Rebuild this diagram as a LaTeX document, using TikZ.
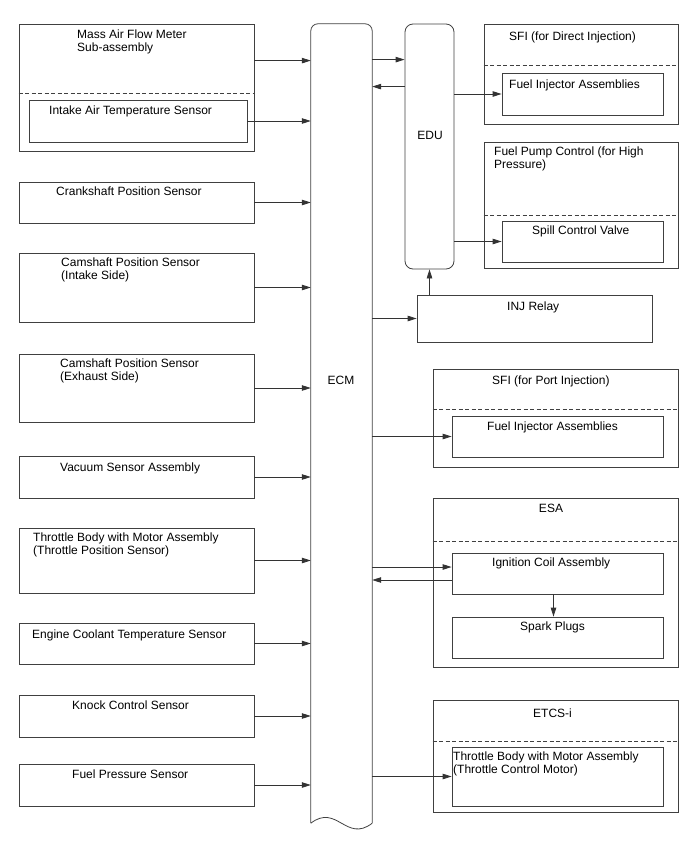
\documentclass[tikz,border=0pt]{standalone}
\usepackage{fontspec}
\setmainfont{Liberation Sans}
\usepackage{tikz}
\usetikzlibrary{arrows.meta,fit}

\begin{document}
\begin{tikzpicture}[x=1pt, y=-1pt,
  every node/.style={font=\fontsize{12}{13}\selectfont},
  box/.style={draw=black!75, line width=0.8pt, inner sep=0pt},
  txt/.style={anchor=base west, align=left, inner sep=0pt},
  dashline/.style={draw=black!75, line width=0.8pt, dash pattern=on 4pt off 2.5pt},
  arr/.style={draw=black!80, line width=0.8pt, -{Triangle[length=9pt,width=5.5pt]}}]
\useasboundingbox (0,0) rectangle (688,852);

% sensors
\node[box, fit={(19,24) (254,151)}] (maf) {};
\node[box, fit={(29,100) (247,142)}] (iat) {};
\node[box, fit={(19,182) (254,223)}] (crank) {};
\node[box, fit={(19,253) (254,322)}] (camin) {};
\node[box, fit={(19,354) (254,422)}] (camex) {};
\node[box, fit={(19,456) (254,498)}] (vac) {};
\node[box, fit={(19,528) (254,593)}] (tps) {};
\node[box, fit={(19,623) (254,664)}] (ect) {};
\node[box, fit={(19,695) (254,737)}] (knock) {};
\node[box, fit={(19,764) (254,806)}] (fps) {};
\draw[dashline] ([yshift=-70pt]maf.north west) -- ([yshift=-70pt]maf.north east);

% two-line labels sit on the baseline of their last line
\node[txt] (mafT) at (77,51) {Mass Air Flow Meter\\Sub-assembly};
\node[txt] (iatT) at (49,114) {Intake Air Temperature Sensor};
\node[txt] (crankT) at (56,195) {Crankshaft Position Sensor};
\node[txt] (caminT) at (61,279) {Camshaft Position Sensor\\(Intake Side)};
\node[txt] (camexT) at (60,380) {Camshaft Position Sensor\\(Exhaust Side)};
\node[txt] (vacT) at (60,471) {Vacuum Sensor Assembly};
\node[txt] (tpsT) at (33,554) {Throttle Body with Motor Assembly\\(Throttle Position Sensor)};
\node[txt] (ectT) at (32,638) {Engine Coolant Temperature Sensor};
\node[txt] (knockT) at (72,709) {Knock Control Sensor};
\node[txt] (fpsT) at (72,778) {Fuel Pressure Sensor};

% ECM and EDU
\node[fit={(311,24) (372,823)}, inner sep=0pt] (ecm) {};
\draw[draw=black!75, line width=0.8pt, rounded corners=7pt] (ecm.south west) -- (ecm.north west) -- (ecm.north east) -- (ecm.south east);
\draw[draw=black!75, line width=0.8pt] (ecm.south east) .. controls +(-26,20) and +(26,-20) .. (ecm.south west);
\node[anchor=base, inner sep=0pt] (ecmT) at (341,384) {ECM};
\node[box, rounded corners=8pt, fit={(405,24) (454,269)}] (edu) {};
\node[anchor=base, inner sep=0pt] (eduT) at (430,139) {EDU};

% actuators
\node[box, fit={(484,24) (678,124)}] (sfid) {};
\node[box, fit={(502,73) (663,115)}] (dinj) {};
\node[box, fit={(484,142) (678,268)}] (fpc) {};
\node[box, fit={(502,221) (663,262)}] (spill) {};
\node[box, fit={(417,295) (652,342)}] (relay) {};
\node[box, fit={(433,369) (678,467)}] (sfip) {};
\node[box, fit={(452,416) (663,457)}] (pinj) {};
\node[box, fit={(433,498) (678,667)}] (esa) {};
\node[box, fit={(452,553) (663,594)}] (ign) {};
\node[box, fit={(452,617) (663,658)}] (spark) {};
\node[box, fit={(433,700) (678,812)}] (etcs) {};
\node[box, fit={(452,747) (663,806)}] (etcsin) {};
\draw[dashline] ([yshift=-42pt]sfid.north west) -- ([yshift=-42pt]sfid.north east);
\draw[dashline] ([yshift=-74pt]fpc.north west) -- ([yshift=-74pt]fpc.north east);
\draw[dashline] ([yshift=-41pt]sfip.north west) -- ([yshift=-41pt]sfip.north east);
\draw[dashline] ([yshift=-44pt]esa.north west) -- ([yshift=-44pt]esa.north east);
\draw[dashline] ([yshift=-42pt]etcs.north west) -- ([yshift=-42pt]etcs.north east);

\node[txt] (sfidT) at (509,40) {SFI (for Direct Injection)};
\node[txt] (dinjT) at (509,88) {Fuel Injector Assemblies};
\node[txt] (fpcT) at (494,168) {Fuel Pump Control (for High\\Pressure)};
\node[txt] (spillT) at (532,234) {Spill Control Valve};
\node[txt] (relayT) at (507,310) {INJ Relay};
\node[txt] (sfipT) at (492,384) {SFI (for Port Injection)};
\node[txt] (pinjT) at (487,430) {Fuel Injector Assemblies};
\node[anchor=base, inner sep=0pt] (esaT) at (551,512) {ESA};
\node[txt] (ignT) at (492,566) {Ignition Coil Assembly};
\node[txt] (sparkT) at (520,630) {Spark Plugs};
\node[txt] (etcsT) at (533,717) {ETCS-i};
\node[txt] (etcsinT) at (453,773) {Throttle Body with Motor Assembly\\(Throttle Control Motor)};

% inputs to ECM
\coordinate (mafout) at ([yshift=-37pt]maf.north east);
\draw[arr] (mafout) -- (mafout -| ecm.west);
\draw[arr] (iat.east) -- (iat.east -| ecm.west);
\foreach \s in {crank,camin,camex,vac,tps,ect,knock,fps}
  \draw[arr] (\s.east) -- (\s.east -| ecm.west);

% outputs
\coordinate (edu1) at ([yshift=-36pt]edu.north west);
\coordinate (edu2) at ([yshift=-63pt]edu.north west);
\draw[arr] (ecm.east |- edu1) -- (edu1);
\draw[arr] (edu2) -- (edu2 -| ecm.east);
\draw[arr] (edu.east |- dinj.west) -- (dinj.west);
\draw[arr] (edu.east |- spill.west) -- (spill.west);
\draw[arr] (ecm.east |- relay.west) -- (relay.west);
\draw[arr] (edu.south |- relay.north) -- (edu.south);
\draw[arr] (ecm.east |- pinj.west) -- (pinj.west);
\coordinate (ign1) at ([yshift=6.5pt]ign.west);
\coordinate (ign2) at ([yshift=-6.5pt]ign.west);
\draw[arr] (ecm.east |- ign1) -- (ign1);
\draw[arr] (ign2) -- (ign2 -| ecm.east);
\draw[arr] ([xshift=-4pt]ign.south) -- ([xshift=-4pt]spark.north);
\draw[arr] (ecm.east |- etcsin.west) -- (etcsin.west);
\end{tikzpicture}
\end{document}
